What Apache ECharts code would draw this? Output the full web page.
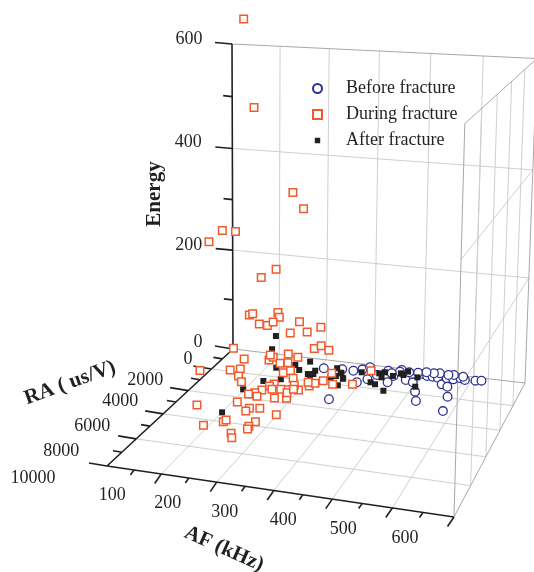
<!DOCTYPE html>
<html><head><meta charset="utf-8">
<style>html,body{margin:0;padding:0;background:#fff}#c{width:534px;height:572px}</style>
<script src="https://cdn.jsdelivr.net/npm/echarts@6/dist/echarts.min.js"></script>
</head><body><div id="c"></div>
<script>
// ---- data (AF kHz, RA us/V, Energy) ----
const afTicks=[0,100,200,300,400,500,600];
const raTicks=[0,2000,4000,6000,8000,10000];
const energyTicks=[0,200,400,600];
const seriesNames=['Before fracture','During fracture','After fracture'];
const afBefore=[212,248,271,295,270,286,297,310,336,321,353,351,360,381,397,404,415,426,437,452,454,467,465,479,489,509,520,413,426,477,485,394,377,435,463,482,453,424,409,359,346];
const raBefore=[900,800,810,1760,3410,600,340,1400,450,940,860,1450,250,1070,1200,390,510,520,560,1080,520,540,1220,380,480,430,370,1950,2690,2040,3220,320,380,150,160,210,220,210,200,420,640];
const energyBefore=[3,3,3,3,3,3,3,3,3,3,3,3,3,3,3,3,3,3,3,3,3,3,3,3,3,3,3,3,3,3,3,3,3,3,3,3,3,3,3,3,3];
const afDuring=[47,68,148,170,18,29,18,114,83,58,65,118,121,79,96,108,163,207,144,179,194,208,224,24,45,18,40,57,67,83,94,97,87,140,144,121,135,144,154,172,147,142,135,127,118,137,171,193,112,144,142,162,46,201,93,121,123,176,172,174,153,161,231,214,220,201,206,186,181,254,235,290,304,168,185,152,191];
const raDuring=[1000,1000,1000,1000,1720,1000,2890,1000,1000,1000,1000,1000,1000,1000,1000,1000,1000,1000,1000,1000,1000,1000,1000,1000,920,3730,2010,1820,2430,2870,740,460,280,1000,200,920,790,1700,1450,2070,2730,2940,3340,3620,3790,3880,3840,3750,4520,4880,5110,4770,5140,5090,6550,6110,5960,5800,6190,6400,6850,7140,1960,2540,2260,2970,2240,2640,3060,2170,1250,1970,630,3090,3300,3180,2970];
const energyDuring=[657,494,339,310,267,255,264,189,170,94,97,105,96,78,77,85,91,85,67,73,42,49,42,24,3,35,3,3,3,3,3,3,3,25,3,3,3,3,3,3,3,3,3,3,3,3,3,3,3,3,3,3,3,3,3,3,3,3,3,3,3,3,3,3,3,3,3,3,3,3,3,3,3,3,3,3,3];
const afAfter=[114,106,175,153,169,122,192,200,202,122,151,100,103,237,251,247,239,264,265,200,253,264,289,320,331,355,323,332,333,352,363,374,370,399,407];
const raAfter=[1000,1000,460,910,1300,1340,1560,1200,1500,2590,2270,3470,5440,760,1110,1440,1600,1600,2200,1760,1150,1560,860,1620,1740,2190,770,620,1090,860,550,330,670,730,1540];
const energyAfter=[58,31,3,3,3,3,3,3,3,3,3,3,3,3,3,3,3,3,3,3,3,3,3,3,3,3,3,3,3,3,3,3,3,3,3];

// ---- oblique perspective box used in place of a 3D axis ----
const O=[233,349],A=[525,383],B=[107,466],C=[232,44],wa=.9383,wb=.8289,wc=.96;
function proj(af,ra,en){
  const u=af/600,v=ra/10000,w=en/600;
  const d=1+(wa-1)*u+(wb-1)*v+(wc-1)*w;
  return [0,1].map(i=>(O[i]+(wa*A[i]-O[i])*u+(wb*B[i]-O[i])*v+(wc*C[i]-O[i])*w)/d);
}
function zipPts(a,r,e){return a.map((_,i)=>proj(a[i],r[i],e[i]));}
const GAP=['-','-'];
function seg(out,p,q){out.push(p,q,GAP);}
const grid=[],frame=[],axes=[];
const AFM=600,RAM=10000,EM=600;
afTicks.slice(1,-1).forEach(t=>{seg(grid,proj(t,0,0),proj(t,RAM,0));seg(grid,proj(t,0,0),proj(t,0,EM));});
raTicks.slice(1,-1).forEach(t=>{seg(grid,proj(0,t,0),proj(AFM,t,0));seg(grid,proj(AFM,t,0),proj(AFM,t,EM));});
energyTicks.slice(1,-1).forEach(t=>{seg(grid,proj(0,0,t),proj(AFM,0,t));seg(grid,proj(AFM,0,t),proj(AFM,RAM,t));});
seg(frame,proj(0,0,EM),proj(AFM,0,EM));
seg(frame,proj(AFM,0,0),proj(AFM,0,EM));
seg(frame,proj(AFM,RAM,0),proj(AFM,RAM,EM));
seg(frame,proj(AFM,RAM,EM),proj(AFM,0,EM));
seg(frame,proj(0,0,0),proj(AFM,0,0));
seg(frame,proj(AFM,RAM,0),proj(AFM,0,0));
seg(axes,proj(0,0,0),proj(0,0,EM));
seg(axes,proj(0,0,0),proj(0,RAM,0));
seg(axes,proj(0,RAM,0),proj(AFM,RAM,0));
function tick(p,dx,dy){seg(axes,p,[p[0]+dx,p[1]+dy]);}
for(let t=50;t<=600;t+=50){ const mj=t%100===0; tick(proj(t,RAM,0),mj?-6.5:-3.5,mj?9.5:5); }
for(let t=0;t<=10000;t+=1000){ const mj=t%2000===0; tick(proj(0,t,0),mj?-18:-9,mj?-3:-1.5); }
for(let t=100;t<=600;t+=100){ const mj=t%200===0; tick(proj(0,0,t),mj?-17:-9,mj?-1.5:-1); }

const labels=[];
afTicks.slice(1).forEach(t=>{const p=proj(t,RAM,0);labels.push({value:[p[0]-49,p[1]+21.5],name:String(t)});});
const raOff=[[-45,10],[-66,11],[-68,11],[-71,12],[-75,12],[-74,12]];
raTicks.forEach((t,i)=>{const p=proj(0,t,0);labels.push({value:[p[0]+raOff[i][0],p[1]+raOff[i][1]],name:String(t)});});
const enOff={0:[-35,-7],200:[-44,-5],400:[-44,-6],600:[-43,-5]};
energyTicks.forEach(t=>{const p=proj(0,0,t);labels.push({value:[p[0]+enOff[t][0],p[1]+enOff[t][1]],name:String(t)});});

const FONT='"Liberation Serif"',INK='#231f20',ORANGE='#f15a2b',BLUE='#2e3192';
const titles=[
 {name:'Energy',at:[155,194],rot:90},
 {name:'RA ( us/V)',at:[70,383],rot:20},
 {name:'AF (kHz)',at:[224,549],rot:-24}
];
function lineS(data,color,w,z){return {type:'line',data,showSymbol:false,symbol:'none',silent:true,clip:true,z,
  lineStyle:{color,width:w},itemStyle:{color},connectNulls:false,legendHoverLink:false};}
const chart=echarts.init(document.getElementById('c'),null,{renderer:'canvas',width:534,height:572});
chart.setOption({
 animation:false,backgroundColor:'#fff',tooltip:{show:false},
 grid:{left:0,top:0,width:534,height:572,containLabel:false},
 xAxis:{type:'value',min:0,max:534,show:false},
 yAxis:{type:'value',min:0,max:572,inverse:true,show:false},
 legend:{orient:'vertical',left:307,top:73,itemWidth:9,itemHeight:9,itemGap:5,selectedMode:false,
  textStyle:{fontFamily:FONT,fontSize:18,color:INK,padding:[0,0,0,19],lineHeight:21},
  data:[{name:seriesNames[0]},{name:seriesNames[1]},
        {name:seriesNames[2],icon:'path://M0,0ZM10,10ZM2,2h6v6h-6z'}]},
 series:[
  lineS(grid,'#cfcfcf',1,1),
  lineS(frame,'#a8a8a8',1,1.5),
  lineS(axes,INK,1.6,2),
  {type:'scatter',name:seriesNames[0],data:zipPts(afBefore,raBefore,energyBefore),symbol:'circle',symbolSize:8.7,z:3,silent:true,
   itemStyle:{color:'#fff',borderColor:BLUE,borderWidth:1.3,opacity:1}},
  {type:'scatter',name:seriesNames[2],data:zipPts(afAfter,raAfter,energyAfter),symbol:'rect',symbolSize:6,z:4,silent:true,
   itemStyle:{color:INK,opacity:1}},
  {type:'scatter',name:seriesNames[1],data:zipPts(afDuring,raDuring,energyDuring),symbol:'rect',symbolSize:7.5,z:5,silent:true,
   itemStyle:{color:'#fff',borderColor:ORANGE,borderWidth:1.5,opacity:1}},
  {type:'scatter',data:labels,symbolSize:0,silent:true,z:6,itemStyle:{opacity:1},
   label:{show:true,position:'inside',formatter:p=>p.name,fontFamily:FONT,fontSize:18,color:INK,opacity:1}},
  {type:'scatter',data:titles.map(t=>({value:t.at,name:t.name,label:{rotate:t.rot}})),symbolSize:0,silent:true,z:6,itemStyle:{opacity:1},
   label:{show:true,position:'inside',formatter:p=>p.name,fontFamily:FONT,fontSize:21,fontWeight:'bold',color:INK,opacity:1}}
 ]
});
</script></body></html>
